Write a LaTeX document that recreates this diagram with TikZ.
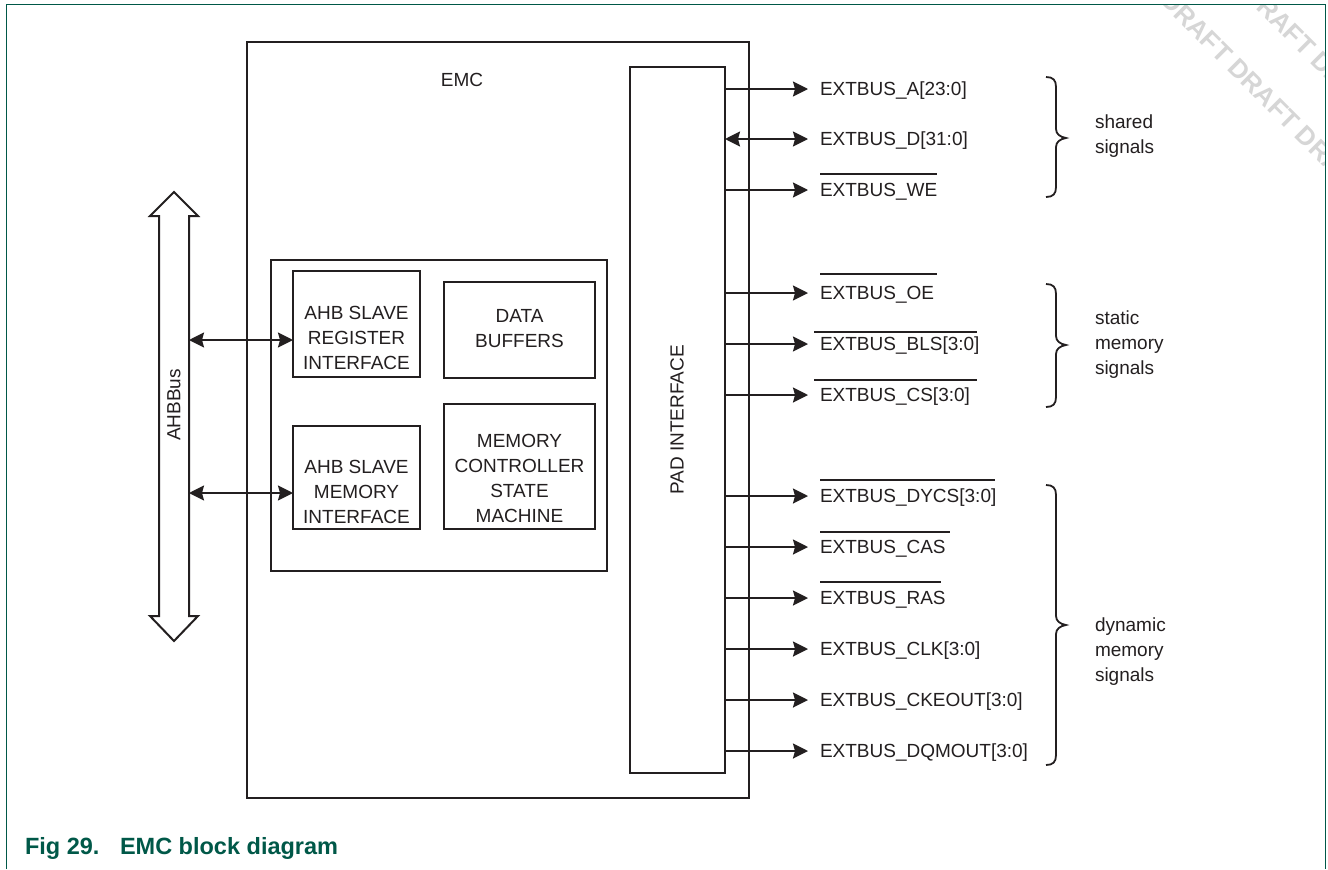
\documentclass[tikz,border=0pt]{standalone}
\usepackage{fontspec}
\setmainfont{Liberation Sans}
\usetikzlibrary{arrows.meta,calc}
\definecolor{ink}{HTML}{231F20}
\definecolor{nxpgreen}{RGB}{0,88,72}
\definecolor{wm}{RGB}{214,214,214}
\newcommand\outsig[4]{%
  \coordinate (e#1) at (808,#2);
  \draw[#4] (pad.east |- e#1) -- (e#1);
  \node[lbl] (l#1) at (820,#2+6.8) {#3};}
\newcommand\cbrace[4]{%
  \coordinate (br#1) at (1066,#3);
  \draw[brc] (1046,#2) .. controls (1053,#2) and (1056,#2+3) .. (1056,#2+10)
    -- (1056,#3-9) .. controls (1056,#3-4) and (1060,#3-1) .. (br#1)
    .. controls (1060,#3+1) and (1056,#3+4) .. (1056,#3+9)
    -- (1056,#4-10) .. controls (1056,#4-3) and (1053,#4) .. (1046,#4);}
\begin{document}
\begin{tikzpicture}[x=1bp,y=-1bp,
  every node/.style={inner sep=0pt, outer sep=0pt, text=ink, font=\fontsize{19bp}{25bp}\selectfont},
  blk/.style={draw=ink, line width=2.2bp, rectangle},
  sig/.style={draw=ink, line width=2bp, -{Stealth[length=15bp,width=15bp,inset=2bp]}},
  bisig/.style={draw=ink, line width=2bp, {Stealth[length=15bp,width=15bp,inset=2bp]}-{Stealth[length=15bp,width=15bp,inset=2bp]}},
  lbl/.style={anchor=base west},
  ovl/.style={draw=ink, line width=1.6bp},
  brc/.style={draw=ink, line width=1.8bp},
  txt/.style={align=center},
  side/.style={anchor=base west},
  wmark/.style={rotate=-45, anchor=base west, text=wm, font=\bfseries\fontsize{26bp}{26bp}\selectfont}
]
\useasboundingbox (0,0) rectangle (1328,869);
\fill[white] (0,0) rectangle (1328,869);

% watermark
\begin{scope}
  \clip (6.5,4.5) rectangle (1325.5,869);
  \node[wmark] (wm1) at (1159,2) {DRAFT DRAFT DRAFT};
  \node[wmark] (wm2) at (1242,-5) {DRAFT DRAFT};
\end{scope}

% frame
\draw[nxpgreen, line width=1.4bp] (6.5,869) -- (6.5,4.5) -- (1325.5,4.5) -- (1325.5,869);

% boxes
\node[blk, minimum width=502bp, minimum height=756bp] (emc) at (498,420) {};
\node[blk, minimum width=95bp, minimum height=706bp] (pad) at (677.5,420) {};
\node[blk, minimum width=336bp, minimum height=311bp] (inner) at (439,415.5) {};
\node[blk, minimum width=127bp, minimum height=106bp] (reg) at (356.5,324) {};
\node[blk, minimum width=151bp, minimum height=96bp] (buf) at (519.5,330) {};
\node[blk, minimum width=127bp, minimum height=103bp] (mem) at (356.5,477.5) {};
\node[blk, minimum width=151bp, minimum height=125bp] (ctl) at (519.5,466.5) {};

% texts
\node (emct) at (462,80) {EMC};
\node[rotate=90] (padt) at (677,420) {PAD INTERFACE};
\node[txt] (regt) at (356.5,338) {AHB SLAVE\\REGISTER\\INTERFACE};
\node[txt] (buft) at (519.5,328.5) {DATA\\BUFFERS};
\node[txt] (memt) at (356.5,492) {AHB SLAVE\\MEMORY\\INTERFACE};
\node[txt] (ctlt) at (519.5,478.5) {MEMORY\\CONTROLLER\\STATE\\MACHINE};

% AHB bus
\draw[draw=ink, line width=2bp, line join=miter]
  (174,192) -- (198,216) -- (189,216) -- (189,616) -- (198,616) -- (174,641)
  -- (150,616) -- (159,616) -- (159,216) -- (150,216) -- cycle;
\node[rotate=90] (bust) at (174,405) {AHBBus};
\coordinate (bus1) at (189,340);
\coordinate (bus2) at (189,493);
\draw[bisig] (bus1) -- (reg.west |- bus1);
\draw[bisig] (bus2) -- (mem.west |- bus2);

% output signals
\outsig{A}{89}{EXTBUS\_A[23:0]}{sig}
\outsig{D}{139}{EXTBUS\_D[31:0]}{bisig}
\outsig{WE}{190}{EXTBUS\_WE}{sig}
\outsig{OE}{293}{EXTBUS\_OE}{sig}
\outsig{BLS}{344}{EXTBUS\_BLS[3:0]}{sig}
\outsig{CS}{395}{EXTBUS\_CS[3:0]}{sig}
\outsig{DYCS}{496}{EXTBUS\_DYCS[3:0]}{sig}
\outsig{CAS}{547}{EXTBUS\_CAS}{sig}
\outsig{RAS}{598}{EXTBUS\_RAS}{sig}
\outsig{CLK}{649}{EXTBUS\_CLK[3:0]}{sig}
\outsig{CKE}{700}{EXTBUS\_CKEOUT[3:0]}{sig}
\outsig{DQM}{751}{EXTBUS\_DQMOUT[3:0]}{sig}

% overlines
\draw[ovl] (820,174) -- (937,174);
\draw[ovl] (820,274) -- (937,274);
\draw[ovl] (814,332) -- (977,332);
\draw[ovl] (814,380) -- (977,380);
\draw[ovl] (820,480) -- (995,480);
\draw[ovl] (820,532) -- (950,532);
\draw[ovl] (820,582) -- (941,582);

% braces
\cbrace{s}{77}{138}{197}
\cbrace{t}{284}{345}{407}
\cbrace{d}{485}{625}{765}

\node[side] (s1) at (1095,128) {shared};
\node[side] (s2) at (1095,153) {signals};
\node[side] (t1) at (1095,324) {static};
\node[side] (t2) at (1095,349) {memory};
\node[side] (t3) at (1095,374) {signals};
\node[side] (d1) at (1095,631) {dynamic};
\node[side] (d2) at (1095,656) {memory};
\node[side] (d3) at (1095,681) {signals};

% caption
\node[anchor=base west, text=nxpgreen, font=\bfseries\fontsize{23.5bp}{23.5bp}\selectfont] (fig) at (25,854) {Fig 29.};
\node[anchor=base west, text=nxpgreen, font=\bfseries\fontsize{23.5bp}{23.5bp}\selectfont] (title) at (120,854) {EMC block diagram};
\end{tikzpicture}
\end{document}
